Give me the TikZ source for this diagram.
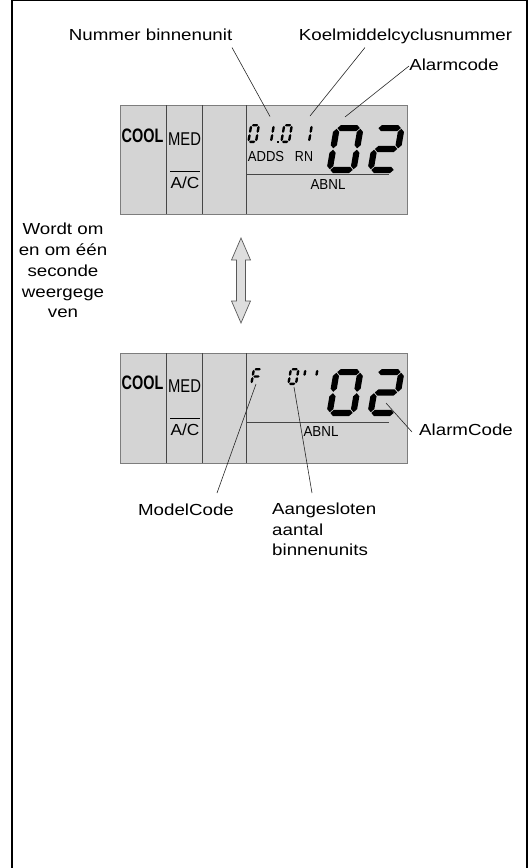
\documentclass[tikz,border=0pt]{standalone}
\usepackage{fontspec}
\setmainfont{Liberation Sans}
\definecolor{lcdfill}{RGB}{212,212,212}
\definecolor{lcdedge}{RGB}{125,125,125}
\definecolor{lcdline}{RGB}{70,70,70}
\definecolor{arrfill}{RGB}{222,222,222}
\newcommand\lbl[1]{\scalebox{1.17}[1]{#1}}
\newcommand\HS[3]{\fill (#1,#3) -- (#1+\dgT,#3+\dgT) -- (#2-\dgT,#3+\dgT) -- (#2,#3) -- (#2-\dgT,#3-\dgT) -- (#1+\dgT,#3-\dgT) -- cycle;}
\newcommand\VS[3]{\fill (#1,#2) -- (#1+\dgT,#2+\dgT) -- (#1+\dgT,#3-\dgT) -- (#1,#3) -- (#1-\dgT,#3-\dgT) -- (#1-\dgT,#2+\dgT) -- cycle;}
\newcommand\sgA{\HS{\dgT+\dgG}{\dgW-\dgT-\dgG}{\dgH-\dgT}}
\newcommand\sgB{\VS{\dgW-\dgT}{\dgH/2+\dgG}{\dgH-\dgT-\dgG}}
\newcommand\sgC{\VS{\dgW-\dgT}{\dgT+\dgG}{\dgH/2-\dgG}}
\newcommand\sgD{\HS{\dgT+\dgG}{\dgW-\dgT-\dgG}{\dgT}}
\newcommand\sgE{\VS{\dgT}{\dgT+\dgG}{\dgH/2-\dgG}}
\newcommand\sgF{\VS{\dgT}{\dgH/2+\dgG}{\dgH-\dgT-\dgG}}
\newcommand\sgG{\HS{\dgT+\dgG}{\dgW-\dgT-\dgG}{\dgH/2}}
\newcommand\digitat[6]{%
  \begin{scope}[shift={(#1,#2)},y=1pt,xslant=0.17]
  \def\dgW{#3}\def\dgH{#4}\def\dgT{#5}\def\dgG{0.7}
  #6
  \end{scope}}
\tikzset{
  lbltxt/.style={font=\fontsize{16}{20.75}\selectfont, inner sep=0pt},
  conn/.style={line width=0.6pt, draw=black!85},
  lcdbox/.style={draw=lcdedge, fill=lcdfill, line width=1pt},
  divider/.style={draw=lcdline, line width=1pt},
  lcdtxt/.style={inner sep=0pt, font=\fontsize{14.5}{14.5}\selectfont},
}
\begin{document}
\begin{tikzpicture}[x=1pt,y=-1pt]
\useasboundingbox (0,0) rectangle (531,868);
% frame
\draw[line width=1pt] (12,0.5) -- (527,0.5);
\draw[line width=2pt] (12,0) -- (12,868);
\draw[line width=2pt] (527,0) -- (527,868);

% ---------- display 1 ----------
\draw[lcdbox] (120,105) rectangle (407,214);
\draw[divider] (166,105) -- (166,214);
\draw[divider] (202,105) -- (202,214);
\draw[divider] (246,105) -- (246,214);
\draw[draw=lcdline, line width=1pt] (247,174) -- (389,174);
\node[inner sep=0pt, font=\fontsize{19.5}{19.5}\selectfont\bfseries] (cool1) at (142.5,136) {\scalebox{0.74}[1]{COOL}};
\node[inner sep=0pt, font=\fontsize{18.5}{18.5}\selectfont] (med1) at (184.5,139) {\scalebox{0.8}[1]{MED}};
\node[inner sep=0pt, font=\fontsize{16}{16}\selectfont] (ac1) at (185,183) {\scalebox{1.08}[1]{A/C}};
\draw[line width=0.8pt] (170,171) -- (200,171);
\node[lcdtxt] (adds1) at (266,157) {\scalebox{0.9}[1]{ADDS}};
\node[lcdtxt] (rn1) at (304,157) {\scalebox{0.86}[1]{RN}};
\node[lcdtxt] (abnl1) at (328,185) {\scalebox{0.92}[1]{ABNL}};
% small digits 01.01
\digitat{247}{143}{10}{19}{1.2}{\sgA\sgB\sgC\sgD\sgE\sgF}
\digitat{262}{143}{10}{19}{1.2}{\sgB\sgC}
\fill (276.5,141) rectangle (278.5,143);
\digitat{280}{143}{10}{19}{1.2}{\sgA\sgB\sgC\sgD\sgE\sgF}
\digitat{300}{143}{10}{19}{1.2}{\sgB\sgC}
% big digits 02
\digitat{326}{173}{30}{48}{3.1}{\sgA\sgB\sgC\sgD\sgE\sgF}
\digitat{367}{173}{30}{48}{3.1}{\sgA\sgB\sgG\sgE\sgD}

% labels top
\node[lbltxt, anchor=base] (nb) at (150.6,40) {\lbl{Nummer binnenunit}};
\node[lbltxt, anchor=base] (kc) at (405.5,40) {\lbl{Koelmiddelcyclusnummer}};
\node[lbltxt, anchor=base] (ac) at (454,70.6) {\lbl{Alarmcode}};
\coordinate (nbS) at (232,47.5);  \coordinate (nbE) at (270,116.5);
\coordinate (kcS) at (365,47.5);  \coordinate (kcE) at (310,116);
\coordinate (acS) at (409,66);    \coordinate (acE) at (345,117);
\draw[conn] (nbS) -- (nbE);
\draw[conn] (kcS) -- (kcE);
\draw[conn] (acS) -- (acE);

% ---------- alternating note and arrow ----------
\node[lbltxt, align=center] (note) at (63,270.7) {\lbl{Wordt om}\\\lbl{en om één}\\\lbl{seconde}\\\lbl{weergege}\\\lbl{ven}};
\filldraw[fill=arrfill, draw=black!65, line width=0.7pt]
  (241,238) -- (250.5,260) -- (245.5,260) -- (245.5,301) -- (250.5,301) -- (241,323)
  -- (231.5,301) -- (236.5,301) -- (236.5,260) -- (231.5,260) -- cycle;

% ---------- display 2 ----------
\draw[lcdbox] (120,353) rectangle (407,463);
\draw[divider] (166,353) -- (166,463);
\draw[divider] (202,353) -- (202,463);
\draw[divider] (246,353) -- (246,463);
\draw[draw=lcdline, line width=1pt] (247,422) -- (389,422);
\node[inner sep=0pt, font=\fontsize{19.5}{19.5}\selectfont\bfseries] (cool2) at (142.5,383) {\scalebox{0.74}[1]{COOL}};
\node[inner sep=0pt, font=\fontsize{18.5}{18.5}\selectfont] (med2) at (184.5,386) {\scalebox{0.8}[1]{MED}};
\node[inner sep=0pt, font=\fontsize{16}{16}\selectfont] (ac2) at (185,430) {\scalebox{1.08}[1]{A/C}};
\draw[line width=0.8pt] (170,418) -- (200,418);
\node[lcdtxt] (abnl2) at (321,432) {\scalebox{0.92}[1]{ABNL}};
% small digits F 01
\digitat{250}{385}{10}{17}{1.2}{\sgA\sgF\sgE\sgG}
\digitat{287}{385}{10}{17}{1.2}{\sgA\sgB\sgC\sgD\sgE\sgF}
\digitat{294}{385}{10}{17}{1.2}{\sgB}
\digitat{306}{385}{10}{17}{1.2}{\sgB}
% big digits 02
\digitat{326}{416}{30}{47}{3.1}{\sgA\sgB\sgC\sgD\sgE\sgF}
\digitat{367}{416}{30}{47}{3.1}{\sgA\sgB\sgG\sgE\sgD}

% labels bottom
\node[lbltxt, anchor=base west] (alc) at (419,435) {\lbl{AlarmCode}};
\node[lbltxt, anchor=base] (mc) at (186,515) {\lbl{ModelCode}};
\node[lbltxt, align=left, anchor=north west] (ab) at (272,502.5) {\lbl{Aangesloten}\\\lbl{aantal}\\\lbl{binnenunits}};
\coordinate (alcS) at (412,432);  \coordinate (alcE) at (386,403);
\coordinate (mcS) at (217,493);   \coordinate (mcE) at (256,384);
\coordinate (abS) at (312,493);   \coordinate (abE) at (294,387);
\draw[conn] (alcS) -- (alcE);
\draw[conn] (mcS) -- (mcE);
\draw[conn] (abS) -- (abE);
\end{tikzpicture}
\end{document}
